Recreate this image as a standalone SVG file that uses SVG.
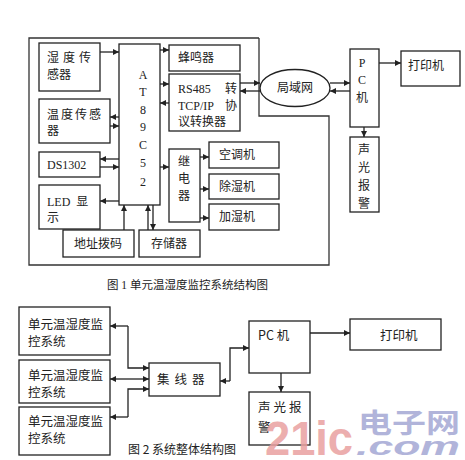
<svg xmlns="http://www.w3.org/2000/svg" width="465" height="460" viewBox="0 0 465 460">
<style>
.b{fill:#fff;stroke:#222;stroke-width:1.3}
.f{fill:none;stroke:#333;stroke-width:1.3}
.c{fill:none;stroke:#222;stroke-width:1.3}
.s{font-family:"Liberation Serif","Noto Sans CJK SC",serif;font-size:12px;fill:#222;dominant-baseline:central}
.m{text-anchor:middle}
.t{font-family:"Noto Sans CJK SC","Liberation Sans",sans-serif;font-size:12.5px;fill:#222;dominant-baseline:central}
.wm{font-family:"Liberation Sans","DejaVu Sans",sans-serif;font-weight:bold}
</style>
<defs>
<marker id="a" viewBox="0 0 10 10" refX="10" refY="5" markerWidth="7" markerHeight="6" orient="auto" markerUnits="userSpaceOnUse"><path d="M0,0 L10,5 L0,10 z" fill="#222"/></marker>
</defs>
<rect width="465" height="460" fill="#fff"/>

<!-- Figure 1 frame -->
<path class="f" d="M259,38 H29 V265 H329 V116 H259 V38"/>

<g id="humidity-sensor"><rect class="b" x="39" y="43" width="61" height="48"/><text class="s" x="47" y="58" letter-spacing="4">湿度传</text><text class="s" x="47" y="75">感器</text></g>
<g id="temp-sensor"><rect class="b" x="39" y="99" width="71" height="44"/><text class="s" x="47" y="115" letter-spacing="2">温度传感</text><text class="s" x="47" y="131">器</text></g>
<g id="ds1302"><rect class="b" x="39" y="152" width="61" height="25"/><text class="s" x="47" y="165">DS1302</text></g>
<g id="led"><rect class="b" x="39" y="185" width="61" height="44"/><text class="s" x="47" y="202" xml:space="preserve">LED  显</text><text class="s" x="47" y="218">示</text></g>
<g id="addr"><rect class="b" x="63" y="230" width="71" height="27"/><text class="s m" x="98" y="244">地址拨码</text></g>
<g id="storage"><rect class="b" x="139" y="230" width="61" height="27"/><text class="s m" x="169" y="244">存储器</text></g>
<g id="mcu"><rect class="b" x="119" y="44" width="41" height="161"/>
<text class="s m" x="143" y="75">A</text><text class="s m" x="143" y="92">T</text><text class="s m" x="143" y="110">8</text><text class="s m" x="143" y="127">9</text><text class="s m" x="143" y="145">C</text><text class="s m" x="143" y="163">5</text><text class="s m" x="143" y="182">2</text></g>
<g id="buzzer"><rect class="b" x="169" y="45" width="71" height="26"/><text class="s" x="178" y="58">蜂鸣器</text></g>
<g id="rs485"><rect class="b" x="169" y="74" width="71" height="57"/><text class="s" x="178" y="89">RS485</text><text class="s" x="225" y="89">转</text><text class="s" x="178" y="106">TCP/IP</text><text class="s" x="225" y="106">协</text><text class="s" x="178" y="122">议转换器</text></g>
<g id="relay"><rect class="b" x="169" y="149" width="31" height="73"/><text class="s m" x="184" y="162">继</text><text class="s m" x="184" y="179">电</text><text class="s m" x="184" y="196">器</text></g>
<g id="ac"><rect class="b" x="209" y="142" width="70" height="26"/><text class="s" x="219" y="155">空调机</text></g>
<g id="dehum"><rect class="b" x="209" y="174" width="70" height="25"/><text class="s" x="219" y="187">除湿机</text></g>
<g id="hum"><rect class="b" x="209" y="204" width="70" height="26"/><text class="s" x="219" y="217" fill="#444">加湿机</text></g>
<g id="lan"><ellipse class="b" cx="295" cy="88" rx="35" ry="18.5"/><text class="s m" x="295" y="88">局域网</text></g>
<g id="pc1"><rect class="b" x="350" y="49" width="29" height="78"/><text class="s m" x="362" y="63">P</text><text class="s m" x="362" y="80">C</text><text class="s m" x="362" y="98">机</text></g>
<g id="printer1"><rect class="b" x="401" y="51" width="59" height="35"/><text class="s" x="408" y="66">打印机</text></g>
<g id="alarm1"><rect class="b" x="350" y="137" width="29" height="75"/><text class="s m" x="364" y="150">声</text><text class="s m" x="364" y="168">光</text><text class="s m" x="364" y="186">报</text><text class="s m" x="364" y="204">警</text></g>

<text id="cap1" x="107" y="285" font-family="Liberation Serif,'Noto Sans CJK SC',serif" font-size="11.5" fill="#222" dominant-baseline="central">图 1 单元温湿度监控系统结构图</text>

<!-- Figure 2 nodes -->
<g id="unit1"><rect class="b" x="19" y="307" width="91" height="48"/><text class="t" x="28" y="323">单元温湿度监</text><text class="t" x="28" y="340">控系统</text></g>
<g id="unit2"><rect class="b" x="19" y="360" width="91" height="43"/><text class="t" x="28" y="374">单元温湿度监</text><text class="t" x="28" y="391">控系统</text></g>
<g id="unit3"><rect class="b" x="19" y="407" width="91" height="48"/><text class="t" x="28" y="420">单元温湿度监</text><text class="t" x="28" y="437">控系统</text></g>
<g id="hub"><rect class="b" x="149" y="363" width="71" height="33"/><text class="t" x="157" y="378" letter-spacing="5">集线器</text></g>
<g id="pc2"><rect class="b" x="249" y="321" width="61" height="52"/><text class="t" x="258" y="334">PC 机</text></g>
<g id="printer2"><rect class="b" x="350" y="319" width="91" height="31"/><text class="t" x="380" y="334">打印机</text></g>
<g id="alarm2"><rect class="b" x="249" y="392" width="61" height="53"/><text class="t" x="258" y="406" letter-spacing="3">声光报</text><text class="t" x="258" y="426">警</text></g>

<text id="cap2" x="128" y="448" font-family="'Noto Sans CJK SC','Liberation Sans',sans-serif" font-size="12" fill="#222" dominant-baseline="central">图 2 系统整体结构图</text>

<!-- connectors -->
<g id="connectors" class="c">
<line x1="100" y1="52" x2="119" y2="52" marker-end="url(#a)"/>
<line x1="119" y1="117" x2="110" y2="117" marker-end="url(#a)"/>
<line x1="110" y1="126" x2="119" y2="126" marker-end="url(#a)"/>
<line x1="119" y1="159" x2="100" y2="159" marker-end="url(#a)"/>
<line x1="100" y1="167" x2="119" y2="167" marker-end="url(#a)"/>
<line x1="119" y1="201" x2="100" y2="201" marker-end="url(#a)"/>
<line x1="124" y1="230" x2="124" y2="205" marker-end="url(#a)"/>
<line x1="148" y1="230" x2="148" y2="205" marker-end="url(#a)"/>
<line x1="153" y1="205" x2="153" y2="230" marker-end="url(#a)"/>
<line x1="160" y1="50" x2="169" y2="50" marker-end="url(#a)"/>
<line x1="160" y1="84" x2="169" y2="84" marker-end="url(#a)"/>
<line x1="169" y1="103" x2="160" y2="103" marker-end="url(#a)"/>
<line x1="160" y1="167" x2="169" y2="167" marker-end="url(#a)"/>
<line x1="200" y1="157" x2="209" y2="157" marker-end="url(#a)"/>
<line x1="200" y1="189" x2="209" y2="189" marker-end="url(#a)"/>
<line x1="200" y1="218" x2="209" y2="218" marker-end="url(#a)"/>
<line x1="240" y1="83" x2="260" y2="83" marker-end="url(#a)"/>
<line x1="261" y1="91" x2="240" y2="91" marker-end="url(#a)"/>
<line x1="330" y1="83" x2="350" y2="83" marker-end="url(#a)"/>
<line x1="350" y1="91" x2="330" y2="91" marker-end="url(#a)"/>
<line x1="379" y1="63" x2="401" y2="63" marker-end="url(#a)"/>
<line x1="364" y1="127" x2="364" y2="137" marker-end="url(#a)"/>
<path d="M128,326 H110" marker-end="url(#a)"/>
<path d="M128,326 V368 H149" marker-end="url(#a)"/>
<line x1="122" y1="379" x2="110" y2="379" marker-end="url(#a)"/>
<line x1="122" y1="379" x2="149" y2="379" marker-end="url(#a)"/>
<path d="M128,417 H110" marker-end="url(#a)"/>
<path d="M128,417 V389 H149" marker-end="url(#a)"/>
<path d="M230,381 H220" marker-end="url(#a)"/>
<path d="M230,381 V348 H249" marker-end="url(#a)"/>
<line x1="310" y1="333" x2="350" y2="333" marker-end="url(#a)"/>
<line x1="281" y1="373" x2="281" y2="392" marker-end="url(#a)"/>
</g>

<!-- watermark -->
<g id="watermark" opacity="0.85">
<text class="wm" x="265" y="455" font-size="48" fill="#e9a0a0" textLength="88" lengthAdjust="spacingAndGlyphs">21ic</text>
<text x="358" y="433" font-family="'Noto Sans CJK SC',sans-serif" font-weight="bold" font-size="27" fill="#a4a8d4" textLength="102" lengthAdjust="spacingAndGlyphs">电子网</text>
<text class="wm" x="356" y="455" font-size="25" font-style="italic" fill="#a4a8d4" textLength="104" lengthAdjust="spacingAndGlyphs">.com</text>
</g>
</svg>
